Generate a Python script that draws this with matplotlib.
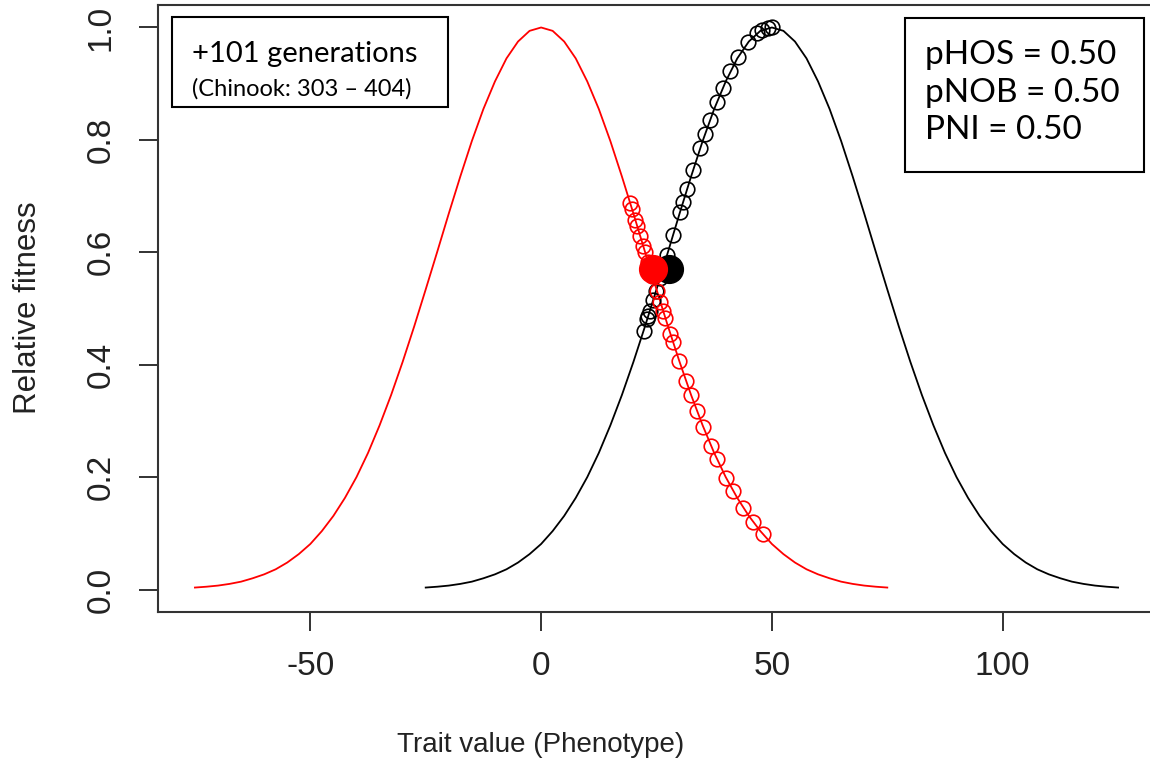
import matplotlib
matplotlib.use("Agg")
import matplotlib.pyplot as plt
import numpy as np
from matplotlib.patches import Rectangle

# relative fitness, every 2.5 trait units from -75 to +75 around the optimum
fitness_curve = [0.0035, 0.005, 0.007, 0.010, 0.014, 0.020, 0.027, 0.036, 0.048, 0.063,
                 0.081, 0.104, 0.131, 0.163, 0.200, 0.243, 0.292, 0.346, 0.405, 0.468,
                 0.534, 0.601, 0.669, 0.735, 0.798, 0.855, 0.904, 0.945, 0.975, 0.994,
                 1.000,
                 0.994, 0.975, 0.945, 0.904, 0.855, 0.798, 0.735, 0.669, 0.601, 0.534,
                 0.468, 0.405, 0.346, 0.292, 0.243, 0.200, 0.163, 0.131, 0.104, 0.081,
                 0.063, 0.048, 0.036, 0.027, 0.020, 0.014, 0.010, 0.007, 0.005, 0.0035]
red_trait = np.arange(-75, 75.1, 2.5)     # hatchery optimum at 0
black_trait = np.arange(-25, 125.1, 2.5)  # natural optimum at 50

# trajectory of the mean phenotype over the generations
black_x = [50.1, 49.2, 47.9, 46.8, 44.9, 42.7, 41.0, 39.4, 38.1, 36.6, 35.5, 34.5, 32.9,
           31.6, 30.8, 30.1, 28.6, 27.3, 26.6, 25.8, 24.9, 24.3, 23.6, 23.2, 23.0, 22.2]
black_y = [1.000, 0.999, 0.996, 0.990, 0.974, 0.948, 0.922, 0.893, 0.867, 0.835, 0.810,
           0.786, 0.746, 0.712, 0.690, 0.672, 0.631, 0.596, 0.577, 0.555, 0.531, 0.515,
           0.496, 0.486, 0.481, 0.460]
red_x = [48.1, 45.9, 43.8, 41.6, 40.1, 38.1, 36.8, 35.1, 33.8, 32.5, 31.4, 29.9, 28.6,
         28.0, 26.9, 26.4, 25.8, 25.1, 24.1, 23.2, 22.5, 22.1, 21.5, 20.8, 20.4, 19.7, 19.3]
red_y = [0.098, 0.120, 0.145, 0.176, 0.199, 0.232, 0.256, 0.290, 0.317, 0.346, 0.371,
         0.407, 0.440, 0.455, 0.483, 0.496, 0.512, 0.531, 0.558, 0.582, 0.601, 0.612,
         0.629, 0.647, 0.658, 0.677, 0.688]

# current generation
black_now = (27.6, 0.571)
red_now = (24.3, 0.571)

xticks = [-50, 0, 50, 100]
xticklabels = ["-50", "0", "50", "100"]
yticks = [0.0, 0.2, 0.4, 0.6, 0.8, 1.0]
yticklabels = ["0.0", "0.2", "0.4", "0.6", "0.8", "1.0"]
xlabel = "Trait value (Phenotype)"
ylabel = "Relative fitness"
gen_line1 = "+101 generations"
gen_line2 = "(Chinook: 303 \u2013 404)"
stats_lines = ["pHOS = 0.50", "pNOB = 0.50", "PNI = 0.50"]

W, H = 1150, 768
fig = plt.figure(figsize=(W / 100, H / 100), dpi=100)
ax = fig.add_axes([158 / W, 1 - 612 / H, (1155 - 158) / W, (612 - 5) / H])

ax.plot(black_trait, fitness_curve, color="black", lw=1.3)
ax.plot(red_trait, fitness_curve, color="red", lw=1.3)
ax.plot(black_x, black_y, "o", mfc="none", mec="black", ms=10.5, mew=1.2)
ax.plot(red_x, red_y, "o", mfc="none", mec="red", ms=10.5, mew=1.2)
ax.plot(*black_now, "o", color="black", ms=20)
ax.plot(*red_now, "o", color="red", ms=20)

ax.set_xlim(-83, 133)
ax.set_ylim(-0.04, 1.04)
ax.set_xticks(xticks)
ax.set_xticklabels(xticklabels, family="Liberation Sans")
ax.set_yticks(yticks)
ax.set_yticklabels(yticklabels, rotation=90, va="center", family="Liberation Sans")
ax.tick_params(length=14, width=1.3, labelsize=24, colors="#222222")
ax.tick_params(axis="x", pad=14)
ax.tick_params(axis="y", pad=16)
for s in ax.spines.values():
    s.set_linewidth(1.5)
    s.set_color("#333333")

fig.text(541 / W, 1 - 745 / H, xlabel, ha="center", va="center",
         fontsize=20, family="Liberation Sans", color="#222222")
fig.text(28 / W, 1 - 308 / H, ylabel, ha="center", va="center", rotation=90,
         fontsize=22.5, family="Liberation Sans", color="#222222")


def px(x, y):
    return x / W, 1 - y / H


fig.add_artist(Rectangle(px(172, 107), (448 - 172) / W, (107 - 17) / H,
                         transform=fig.transFigure, fc="white", ec="black", lw=1.5))
fig.text(*px(192, 54), gen_line1, va="center", fontsize=21, family="Lato")
fig.text(*px(192, 89), gen_line2, va="center", fontsize=17, family="Lato")

fig.add_artist(Rectangle(px(905, 172), (1144 - 905) / W, (172 - 18) / H,
                         transform=fig.transFigure, fc="white", ec="black", lw=1.5))
for i, line in enumerate(stats_lines):
    fig.text(*px(925, 55 + 37.5 * i), line, va="center", fontsize=24, family="Lato")

fig.savefig("out.png", dpi=100)
